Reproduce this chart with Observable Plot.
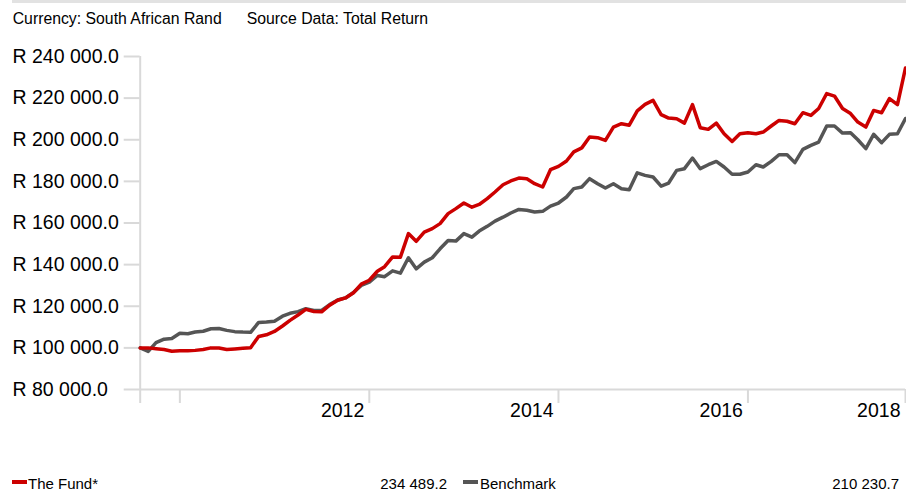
<!DOCTYPE html>
<html>
<head>
<meta charset="utf-8">
<script src="https://cdn.jsdelivr.net/npm/d3@7"></script>
<script src="https://cdn.jsdelivr.net/npm/@observablehq/plot@0.6"></script>
<style>
  html, body { margin: 0; padding: 0; background: #fff; }
  body { font-family: Arial, "Liberation Sans", sans-serif; color: #000; }
  #wrap { position: relative; width: 906px; height: 491px; overflow: hidden; }
  #topline { position: absolute; left: 12px; right: 0; top: 0; height: 3px; background: #e2e2e2; }
  #header { position: relative; height: 36px; }
  #header span { position: absolute; top: 9.5px; font-size: 15.8px; line-height: 18px; white-space: nowrap; }
  #chart { height: 400px; }
  #chart svg { display: block; }
  #legend { position: relative; height: 55px; }
  #legend .sw { position: absolute; top: 44px; height: 4px; width: 15px; }
  #legend .tx { position: absolute; top: 39.3px; font-size: 15px; line-height: 17px; white-space: nowrap; }
  #legend .num { text-align: right; }
</style>
</head>
<body>
<div id="wrap">
  <div id="topline"></div>
  <div id="header"></div>
  <div id="chart"></div>
  <div id="legend"></div>
</div>
<script>
// ---- data (monthly, month-end, starting 31 Jul 2010) ----
const headerTexts = ["Currency: South African Rand", "Source Data: Total Return"];
const seriesNames = ["The Fund*", "Benchmark"];
const seriesColors = ["#cc0000", "#555555"];

const fundValues = [
  100000,100000,99600,99200,98400,98600,98600,98800,99200,100000,
  99900,99200,99500,99800,100100,105500,106300,107900,110500,113200,
  115800,118500,117500,117300,120500,122900,124000,126500,130600,132500,
  136800,139000,143700,143600,154900,151200,155600,157300,159700,164500,
  166900,169600,167600,168900,171700,174900,178400,180200,181600,181300,
  178900,177300,185600,187200,189800,194200,196100,201300,201000,199700,
  206100,207700,207000,213900,217000,218900,212100,210400,210100,208000,
  216900,205800,205000,208000,202900,199200,202900,203400,202900,203700,
  206600,209300,208900,207700,213000,211700,215000,222200,221000,215000,
  212600,208500,206100,214100,213000,219800,216900,234489.2
];
const benchValues = [
  100000,98300,102500,104200,104500,107000,106800,107600,108000,109200,
  109300,108400,107800,107600,107500,112200,112400,112800,115200,116600,
  117400,118800,118000,118000,120800,123000,124000,126600,130000,131600,
  134800,134200,137000,135900,143300,138000,141200,143300,147600,151600,
  151300,154900,153200,156100,158400,160900,162800,164800,166500,166100,
  165300,165600,168100,169600,172500,176500,177300,181300,178900,176800,
  178900,176500,176000,184100,182900,182100,177700,179200,185300,186100,
  191200,186100,188000,189600,186900,183400,183400,184500,188000,186900,
  189600,192800,192800,189000,195400,197300,198900,206600,206600,203200,
  203400,200000,195700,202600,198600,202600,202900,210230.7
];

const yDomain = [80000, 240000];
const yTicks = [80000, 100000, 120000, 140000, 160000, 180000, 200000, 220000, 240000];
const xTickDates = ["2010-07-31", "2010-12-31", "2012-12-31", "2014-12-31", "2016-12-31", "2018-08-31"];
const xTickLabels = ["", "", "2012", "2014", "2016", "2018"];

// ---- build ----
const firstMonth = new Date(Date.UTC(2010, 7, 1)); // month after first month-end
const monthEnd = i => d3.utcDay.offset(d3.utcMonth.offset(firstMonth, i), -1);

const fundRows = fundValues.map((v, i) => ({date: monthEnd(i), value: v}));
const benchRows = benchValues.map((v, i) => ({date: monthEnd(i), value: v}));
const xStart = fundRows[0].date;
const xEnd = fundRows[fundRows.length - 1].date;

const ticksX = xTickDates.map(s => new Date(s + "T00:00:00Z"));
const labelMap = new Map(ticksX.map((d, i) => [+d, xTickLabels[i]]));

const numFmt = d => d3.format(",.1f")(d).replace(/,/g, " ");
const randFmt = d => "R " + numFmt(d);

const gridColor = "#d9d9d9";
const font = 'Arial, "Liberation Sans", sans-serif';
const mLeft = 139.7;

const chart = Plot.plot({
  width: 906,
  height: 400,
  marginTop: 20,
  marginBottom: 47,
  marginLeft: mLeft,
  marginRight: 1,
  style: {fontFamily: font, fontSize: "19.5px", color: "#000", background: "transparent", overflow: "visible"},
  x: {type: "utc", domain: [xStart, xEnd]},
  y: {domain: yDomain},
  marks: [
    Plot.ruleY([yDomain[0]], {stroke: gridColor, strokeWidth: 2}),
    Plot.ruleX([xStart], {y1: yDomain[0], y2: yDomain[1], stroke: gridColor, strokeWidth: 2}),
    // y ticks
    Plot.axisY({
      ticks: yTicks, tickSize: 16, tickFormat: () => "",
      stroke: gridColor, strokeWidth: 2, label: null
    }),
    // y labels, left-aligned at x = 12
    Plot.axisY({
      ticks: yTicks, tickSize: 0, tickPadding: mLeft - 12, tickFormat: randFmt,
      textAnchor: "start", strokeOpacity: 0, fill: "#000", fontSize: 19.5, label: null
    }),
    // x ticks
    Plot.axisX({
      ticks: ticksX, tickSize: 14, tickFormat: () => "",
      stroke: gridColor, strokeWidth: 2, label: null
    }),
    // x labels, right-aligned just left of their tick
    Plot.axisX({
      ticks: ticksX, tickSize: 14, tickPadding: 0,
      tickFormat: d => labelMap.get(+d) ?? "",
      textAnchor: "end", dx: -5, strokeOpacity: 0,
      fill: "#000", fontSize: 19.5, label: null
    }),
    Plot.line(benchRows, {x: "date", y: "value", stroke: seriesColors[1], strokeWidth: 3.5}),
    Plot.line(fundRows, {x: "date", y: "value", stroke: seriesColors[0], strokeWidth: 3.5})
  ]
});
document.getElementById("chart").appendChild(chart);

// header
const header = document.getElementById("header");
[12.7, 246.7].forEach((x, i) => {
  const s = document.createElement("span");
  s.style.left = x + "px";
  s.textContent = headerTexts[i];
  header.appendChild(s);
});

// legend
const legend = document.getElementById("legend");
const lastVals = [fundValues[fundValues.length - 1], benchValues[benchValues.length - 1]];
const legendPos = [
  {sw: 12, name: 28, numRight: 447},
  {sw: 463, name: 480, numRight: 899}
];
legendPos.forEach((p, i) => {
  const sw = document.createElement("div");
  sw.className = "sw";
  sw.style.left = p.sw + "px";
  sw.style.background = seriesColors[i];
  legend.appendChild(sw);
  const nm = document.createElement("div");
  nm.className = "tx";
  nm.style.left = p.name + "px";
  nm.textContent = seriesNames[i];
  legend.appendChild(nm);
  const nv = document.createElement("div");
  nv.className = "tx num";
  nv.style.right = (906 - p.numRight) + "px";
  nv.textContent = numFmt(lastVals[i]);
  legend.appendChild(nv);
});
</script>
</body>
</html>
